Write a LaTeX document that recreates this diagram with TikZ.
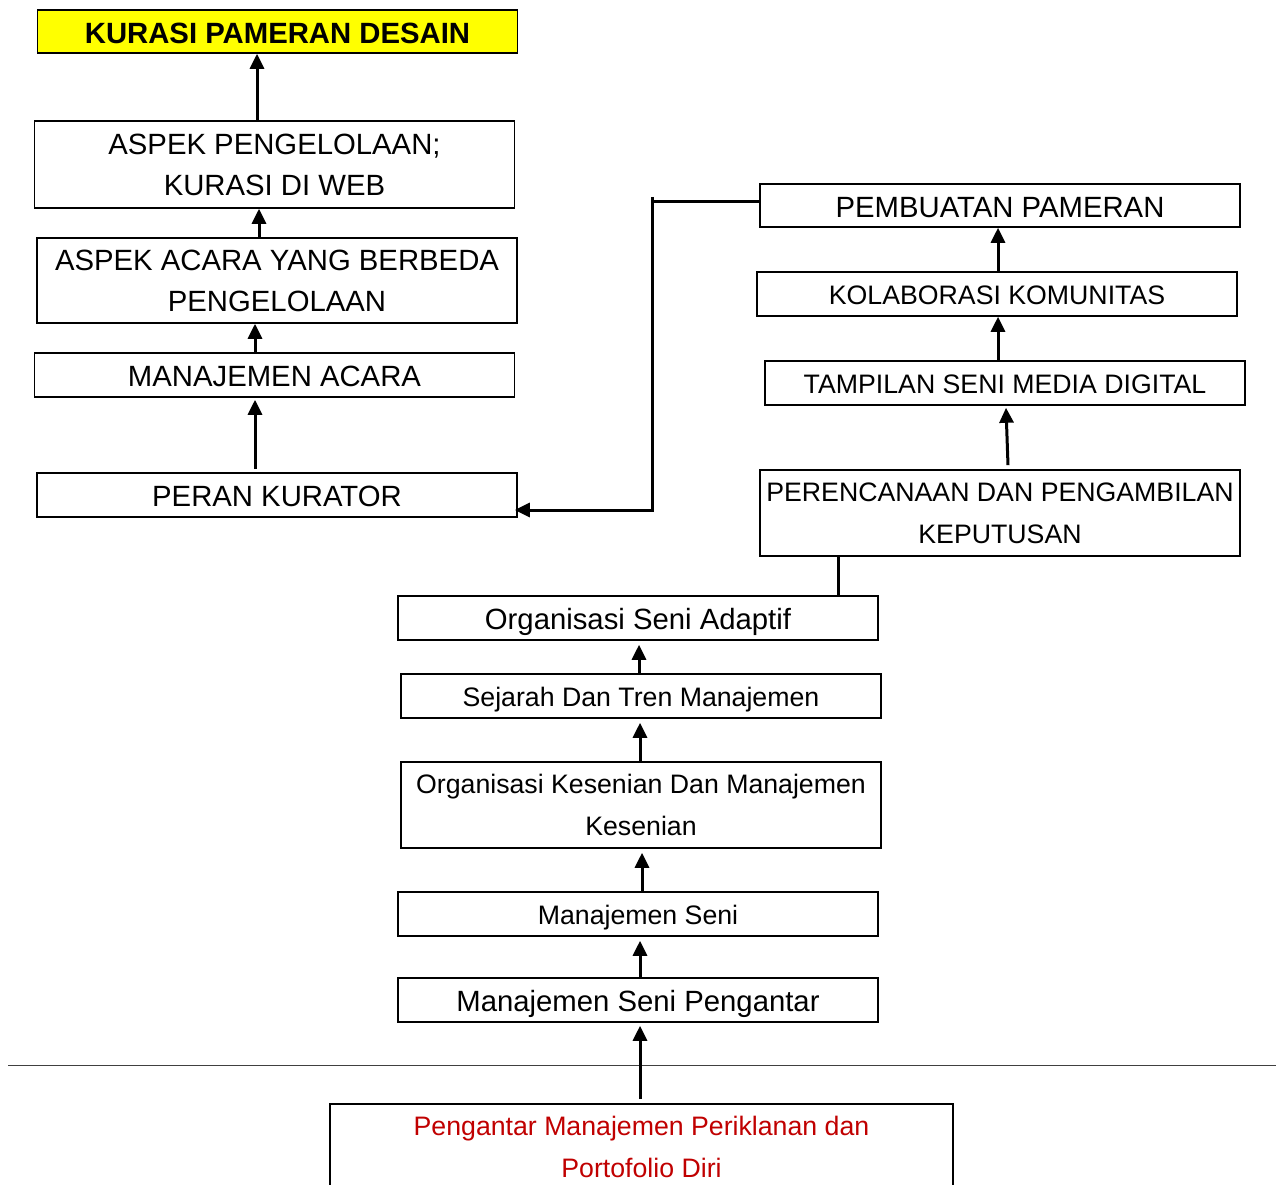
\documentclass[tikz,border=0pt]{standalone}
\usepackage{fontspec}
\setmainfont{Liberation Sans}
\usetikzlibrary{arrows.meta}
\definecolor{kuning}{HTML}{FFFF00}
\definecolor{merah}{HTML}{C00000}
\begin{document}
\begin{tikzpicture}[x=1pt,y=-1pt,
  box/.style={draw, line width=1.6pt, minimum width=480pt, minimum height=44pt,
    inner sep=0pt, align=center, font=\fontsize{29.3}{41}\selectfont},
  boxsm/.style={box, font=\fontsize{26.7}{42}\selectfont},
  one/.style={text height=24.5pt, text depth=1pt},
  onesm/.style={text height=22.5pt, text depth=1pt},
  tall/.style={minimum height=86pt},
  arr/.style={line width=3pt, -{Triangle[length=15pt,width=14pt]}},
  link/.style={line width=3pt},
]
\useasboundingbox (0,0) rectangle (1283,1185);
\clip (0,0) rectangle (1283,1185);

% left column
\node[box, one, fill=kuning, minimum height=43pt, font=\fontsize{29.3}{41}\selectfont\bfseries]
  (n1) at (277.5,31.5) {KURASI PAMERAN DESAIN};
\node[box, tall, minimum height=87pt] (n2) at (274.5,164.5) {ASPEK PENGELOLAAN;\\KURASI DI WEB};
\node[box, tall, minimum height=85pt] (n3) at (277,280.5) {ASPEK ACARA YANG BERBEDA\\PENGELOLAAN};
\node[box, one] (n4) at (274.5,375) {MANAJEMEN ACARA};
\node[box, one] (n5) at (277,495) {PERAN KURATOR};

% right column
\node[box, one, minimum height=43pt] (n6) at (1000,205.5) {PEMBUATAN PAMERAN};
\node[boxsm, onesm] (n7) at (997,294) {KOLABORASI KOMUNITAS};
\node[boxsm, onesm] (n8) at (1005,383) {TAMPILAN SENI MEDIA DIGITAL};
\node[boxsm, tall] (n9) at (1000,513) {PERENCANAAN DAN PENGAMBILAN\\KEPUTUSAN};

% middle column
\node[box, one] (n10) at (638,618) {Organisasi Seni Adaptif};
\node[boxsm, onesm] (n11) at (641,696) {Sejarah Dan Tren Manajemen};
\node[boxsm, tall] (n12) at (641,805) {Organisasi Kesenian Dan Manajemen\\Kesenian};
\node[boxsm, onesm] (n13) at (638,914) {Manajemen Seni};
\node[box, one] (n14) at (638,1000) {Manajemen Seni Pengantar};

% separator rule
\draw[black!75, line width=0.9pt] (8,1065) -- (1276,1065);

% base course
\node[boxsm, tall, minimum width=623pt, text=merah] (n15) at (641.5,1147)
  {Pengantar Manajemen Periklanan dan\\Portofolio Diri};

% left column arrows
\draw[arr] ([xshift=-17.5pt]n2.north) -- ([xshift=-17.5pt]n2.north |- n1.south);
\draw[arr] ([xshift=-18pt]n3.north) -- ([xshift=-18pt]n3.north |- n2.south);
\draw[arr] ([xshift=-19.5pt]n4.north) -- ([xshift=-19.5pt]n4.north |- n3.south);
\draw[arr] ([xshift=-22pt,yshift=3pt]n5.north) -- ([xshift=-22pt,yshift=-2pt]n5.north |- n4.south);

% right column arrows
\draw[arr] ([xshift=8pt,yshift=4pt]n9.north) -- ([xshift=1pt,yshift=-2pt]n8.south);
\draw[arr] ([xshift=-7pt]n8.north) -- ([xshift=-7pt]n8.north |- n7.south);
\draw[arr] ([xshift=1pt]n7.north) -- ([xshift=1pt]n7.north |- n6.south);

% link from the exhibition box back to the curator role
\coordinate (bendA) at (652,202);
\coordinate (bendB) at (652,510);
\draw[link] (652,197) -- (bendA);
\draw[arr] ([yshift=3.5pt]n6.west) -- (bendA) -- (bendB) -- ([xshift=-3pt,yshift=-15pt]n5.east);

% middle column links
\draw[link] ([xshift=-162pt]n9.south) -- ([xshift=-162pt]n9.south |- n10.north);
\draw[arr] ([xshift=-2pt]n11.north) -- ([xshift=-2pt,yshift=-4pt]n11.north |- n10.south);
\draw[arr] ([xshift=-1pt]n12.north) -- ([xshift=-1pt,yshift=-4pt]n12.north |- n11.south);
\draw[arr] ([xshift=4pt]n13.north) -- ([xshift=4pt,yshift=-4pt]n13.north |- n12.south);
\draw[arr] ([xshift=2pt]n14.north) -- ([xshift=2pt,yshift=-4pt]n14.north |- n13.south);
\draw[arr] ([xshift=-1.5pt,yshift=4pt]n15.north) -- ([xshift=-1.5pt,yshift=-3pt]n15.north |- n14.south);
\end{tikzpicture}
\end{document}
